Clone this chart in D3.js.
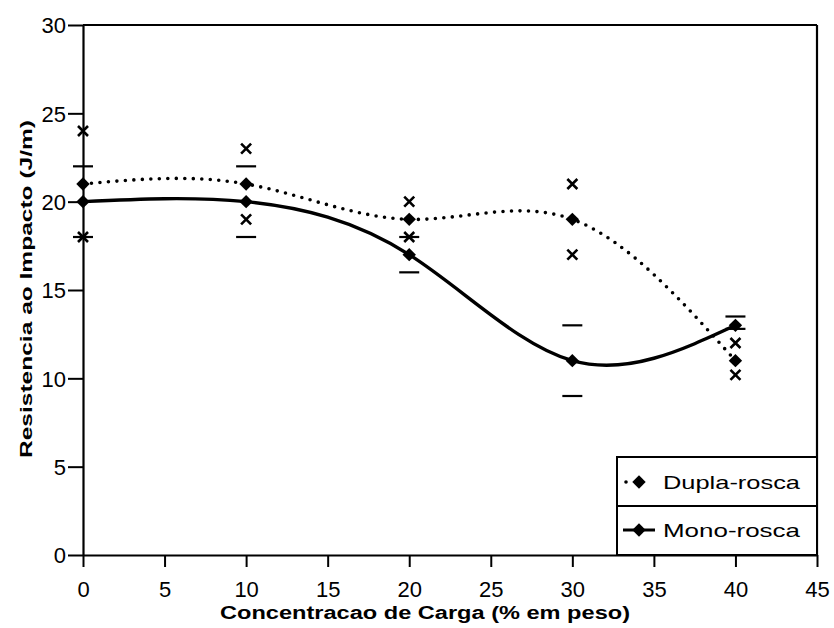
<!DOCTYPE html>
<html>
<head>
<meta charset="utf-8">
<script src="https://cdn.jsdelivr.net/npm/d3@7"></script>
<style>
  body { margin: 0; background: #fff; }
  text { font-family: "Liberation Sans", Arial, sans-serif; fill: #000; }
</style>
</head>
<body>
<div id="chart"></div>
<script>
// valores
const concentracao = [0, 10, 20, 30, 40];
const duplaRosca = [21, 21, 19, 19, 11];
const monoRosca = [20, 20, 17, 11, 13];
// marcas de dispersao (x) da dupla-rosca e tracos da mono-rosca
const duplaMarcas = [[24, 18], [23, 19], [20, 18], [21, 17], [12, 10.2]];
const monoTracos = [[22, 18], [22, 18], [18, 16], [13, 9], [13.5, 12.8]];
const xTicks = [0, 5, 10, 15, 20, 25, 30, 35, 40, 45];
const yTicks = [0, 5, 10, 15, 20, 25, 30];

const width = 834, height = 628;
const margin = {left: 83, right: 817, top: 25, bottom: 555};

const svg = d3.select("#chart").append("svg")
    .attr("width", width)
    .attr("height", height);

svg.append("rect").attr("width", width).attr("height", height).attr("fill", "#fff");

const x = d3.scaleLinear().domain([0, 45]).range([margin.left, margin.right]);
const y = d3.scaleLinear().domain([0, 30]).range([margin.bottom, margin.top]);

// eixos
const xAxis = svg.append("g")
    .attr("transform", `translate(0,${margin.bottom})`)
    .call(d3.axisBottom(x).tickValues(xTicks).tickSize(12).tickSizeOuter(0).tickPadding(14));
const yAxis = svg.append("g")
    .attr("transform", `translate(${margin.left},0)`)
    .call(d3.axisLeft(y).tickValues(yTicks).tickSize(15).tickSizeOuter(0).tickPadding(2));

[xAxis, yAxis].forEach(g => {
    g.select(".domain").attr("stroke", "#000").attr("stroke-width", 2.2);
    g.selectAll(".tick line").attr("stroke", "#000").attr("stroke-width", 2);
    g.selectAll(".tick text").attr("font-size", 22)
        .style("font-family", "'Liberation Sans', Arial, sans-serif").attr("fill", "#000");
});
yAxis.selectAll(".tick text").attr("dy", "0.36em");

// moldura superior e direita
svg.append("line").attr("x1", margin.left).attr("x2", margin.right)
    .attr("y1", margin.top).attr("y2", margin.top)
    .attr("stroke", "#000").attr("stroke-width", 2.2);
svg.append("line").attr("x1", margin.right).attr("x2", margin.right)
    .attr("y1", margin.top).attr("y2", margin.bottom)
    .attr("stroke", "#000").attr("stroke-width", 2.2);

// rotulos dos eixos
svg.append("text")
    .attr("x", 425).attr("y", 619)
    .attr("text-anchor", "middle")
    .attr("font-size", 18).attr("font-weight", "bold")
    .attr("textLength", 410).attr("lengthAdjust", "spacingAndGlyphs")
    .text("Concentracao de Carga (% em peso)");

svg.append("text")
    .attr("transform", "translate(32,289) rotate(-90)")
    .attr("text-anchor", "middle")
    .attr("font-size", 17).attr("font-weight", "bold")
    .attr("textLength", 338).attr("lengthAdjust", "spacingAndGlyphs")
    .text("Resistencia ao Impacto (J/m)");

// simbolo losango
const losango = {
    draw(ctx, size) {
        const r = Math.sqrt(size) / 2;
        ctx.moveTo(0, -r); ctx.lineTo(r, 0); ctx.lineTo(0, r); ctx.lineTo(-r, 0); ctx.closePath();
    }
};
const simbolo = d3.symbol(losango, 180);

const line = d3.line()
    .x(d => x(d[0]))
    .y(d => y(d[1]))
    .curve(d3.curveNatural);

const duplaPts = concentracao.map((c, i) => [c, duplaRosca[i]]);
const monoPts = concentracao.map((c, i) => [c, monoRosca[i]]);

// tracos de dispersao (mono-rosca)
concentracao.forEach((c, i) => {
    monoTracos[i].forEach(v => {
        svg.append("line")
            .attr("x1", x(c) - 10).attr("x2", x(c) + 10)
            .attr("y1", y(v)).attr("y2", y(v))
            .attr("stroke", "#000").attr("stroke-width", 2.2);
    });
});

// marcas x (dupla-rosca)
const marcaX = svg.append("g");
concentracao.forEach((c, i) => {
    duplaMarcas[i].forEach(v => {
        const cx = x(c), cy = y(v), s = 5;
        marcaX.append("path")
            .attr("d", `M${cx - s},${cy - s}L${cx + s},${cy + s}M${cx - s},${cy + s}L${cx + s},${cy - s}`)
            .attr("stroke", "#000").attr("stroke-width", 2.6).attr("fill", "none");
    });
});

// curvas
svg.append("path")
    .datum(duplaPts)
    .attr("d", line)
    .attr("fill", "none")
    .attr("stroke", "#000")
    .attr("stroke-width", 3.6)
    .attr("stroke-linecap", "round")
    .attr("stroke-dasharray", "0 8.5");

svg.append("path")
    .datum(monoPts)
    .attr("d", line)
    .attr("fill", "none")
    .attr("stroke", "#000")
    .attr("stroke-width", 3.4);

// pontos
svg.selectAll(".dupla")
    .data(duplaPts)
    .enter()
    .append("path")
    .attr("class", "dupla")
    .attr("transform", d => `translate(${x(d[0])},${y(d[1])})`)
    .attr("d", simbolo)
    .attr("fill", "#000");

svg.selectAll(".mono")
    .data(monoPts)
    .enter()
    .append("path")
    .attr("class", "mono")
    .attr("transform", d => `translate(${x(d[0])},${y(d[1])})`)
    .attr("d", simbolo)
    .attr("fill", "#000");

// legenda
const legend = svg.append("g");
legend.append("rect")
    .attr("x", 617).attr("y", 457)
    .attr("width", margin.right - 617).attr("height", margin.bottom - 457)
    .attr("fill", "#fff").attr("stroke", "#000").attr("stroke-width", 2);
legend.append("line")
    .attr("x1", 617).attr("x2", margin.right).attr("y1", 506).attr("y2", 506)
    .attr("stroke", "#000").attr("stroke-width", 2);

legend.append("circle").attr("cx", 626).attr("cy", 482).attr("r", 1.8).attr("fill", "#000");
legend.append("path").attr("transform", "translate(639,482)").attr("d", simbolo).attr("fill", "#000");
legend.append("text")
    .attr("x", 663).attr("y", 489)
    .attr("font-size", 19)
    .attr("textLength", 137).attr("lengthAdjust", "spacingAndGlyphs")
    .text("Dupla-rosca");

legend.append("line")
    .attr("x1", 623).attr("x2", 655).attr("y1", 530).attr("y2", 530)
    .attr("stroke", "#000").attr("stroke-width", 3);
legend.append("path").attr("transform", "translate(639,530)").attr("d", simbolo).attr("fill", "#000");
legend.append("text")
    .attr("x", 663).attr("y", 537)
    .attr("font-size", 19)
    .attr("textLength", 137).attr("lengthAdjust", "spacingAndGlyphs")
    .text("Mono-rosca");
</script>
</body>
</html>
